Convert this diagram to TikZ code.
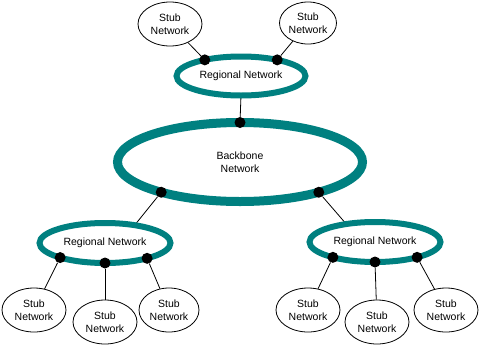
\documentclass[tikz,border=0pt]{standalone}
\usepackage{fontspec}
\setmainfont{Liberation Sans}
\usetikzlibrary{shapes.geometric, backgrounds}
\definecolor{ringteal}{HTML}{008080}
\tikzstyle{ring} = [ellipse, draw=ringteal, line width=6pt, outer sep=0pt, inner sep=0pt, minimum width=131pt, minimum height=40pt, align=center]
\tikzstyle{backbone} = [ring, line width=9pt, minimum width=245pt, minimum height=79pt]
\tikzstyle{stub} = [ellipse, draw=black, line width=0.8pt, inner sep=0pt, minimum width=64pt, minimum height=44pt, align=center]
\tikzstyle{dot} = [circle, fill=black, inner sep=0pt, minimum size=11pt]
\tikzstyle{link} = [draw=black, line width=0.8pt]

\begin{document}
\begin{tikzpicture}[x=1pt, y=-1pt, font=\fontsize{10.5}{12.5}\selectfont]
    \useasboundingbox (0,0) rectangle (480,346);

    % rings
    \node (bb) [backbone] at (240,162) {Backbone\\Network};
    \node (topreg) [ring, minimum width=129pt, minimum height=39pt] at (241,76) {Regional Network};
    \node (leftreg) [ring] at (105,243) {Regional Network};
    \node (rightreg) [ring] at (375,242) {Regional Network};

    % stub networks
    \node (ts1) [stub] at (170,24) {Stub\\Network};
    \node (ts2) [stub, minimum width=57pt, minimum height=42pt] at (308,23) {Stub\\Network};
    \node (ls1) [stub] at (34,310) {Stub\\Network};
    \node (ls2) [stub] at (105,322) {Stub\\Network};
    \node (ls3) [stub, minimum width=60pt] at (169,310) {Stub\\Network};
    \node (rs1) [stub] at (308,310) {Stub\\Network};
    \node (rs2) [stub] at (377,322) {Stub\\Network};
    \node (rs3) [stub] at (446,310) {Stub\\Network};

    % attachment points
    \node (td1) [dot] at (topreg.156) {};
    \node (td2) [dot] at (topreg.24) {};
    \node (bbtop) [dot] at (bb.90) {};
    \node (bbl) [dot] at (bb.201) {};
    \node (bbr) [dot] at (bb.339) {};
    \node (ld1) [dot] at (leftreg.198) {};
    \node (ld2) [dot] at (leftreg.270) {};
    \node (ld3) [dot] at (leftreg.340) {};
    \node (rd1) [dot] at (rightreg.200) {};
    \node (rd2) [dot] at (rightreg.270) {};
    \node (rd3) [dot] at (rightreg.340) {};

    \begin{pgfonlayer}{background}
        \draw [link] (td1) -- (ts1);
        \draw [link] (td2) -- (ts2);
        \draw [link] (topreg.270) -- (bbtop);
        \draw [link] (bbl) -- (leftreg.31);
        \draw [link] (bbr) -- (rightreg.148);
        \draw [link] (ld1) -- (ls1);
        \draw [link] (ld2) -- (ls2);
        \draw [link] (ld3) -- (ls3);
        \draw [link] (rd1) -- (rs1);
        \draw [link] (rd2) -- (rs2);
        \draw [link] (rd3) -- (rs3);
    \end{pgfonlayer}
\end{tikzpicture}
\end{document}
